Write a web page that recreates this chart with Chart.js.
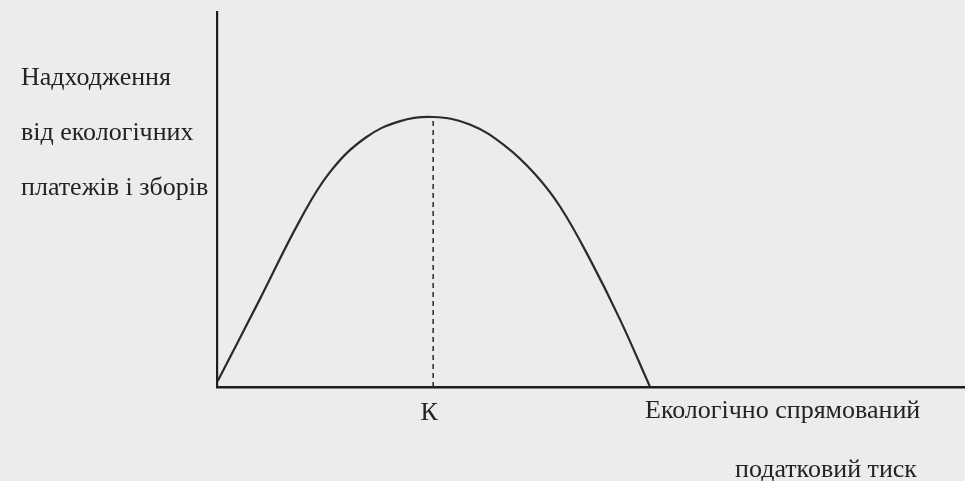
<!DOCTYPE html>
<html>
<head>
<meta charset="utf-8">
<script src="https://cdn.jsdelivr.net/npm/chart.js@4.4.1/dist/chart.umd.min.js"></script>
<style>
  html, body { margin: 0; padding: 0; background: #ececec; }
  #wrap { width: 965px; height: 481px; position: relative; }
</style>
</head>
<body>
<div id="wrap"><canvas id="c" width="965" height="481"></canvas></div>
<script>
// ---- data ----
const curveX = [0.1, 5.75, 11.1, 15.1, 19.8, 24.5, 28.9, 33.8, 38.5, 42.5, 45.9, 49.9, 53.9, 57.9];
const curveY = [1.6, 23.5, 44.5, 57.3, 66.4, 70.9, 72.0, 70.0, 64.3, 56.8, 48.0, 33.9, 17.9, 0];
const kValue = 28.9;
const kPeak = 72.0;
const kLabel = "К";
const yLabelLines = ["Надходження", "від екологічних", "платежів і зборів"];
const xLabelLines = ["Екологічно спрямований", "податковий тиск"];

const curvePoints = curveX.map((x, i) => ({ x: x, y: curveY[i] }));
const kLinePoints = [{ x: kValue, y: 0 }, { x: kValue, y: kPeak }];

const ink = "#232323";
const font = "26px 'Liberation Serif', 'Times New Roman', serif";

const textPlugin = {
  id: "texts",
  afterDraw(chart) {
    const ctx = chart.ctx;
    const xs = chart.scales.x;
    ctx.save();
    ctx.fillStyle = ink;
    ctx.font = font;
    ctx.textBaseline = "alphabetic";
    ctx.textAlign = "left";
    const yBase = [85, 140, 195];
    yLabelLines.forEach((t, i) => ctx.fillText(t, 21, yBase[i]));
    ctx.fillText(xLabelLines[0], 645, 418);
    ctx.fillText(xLabelLines[1], 735, 477);
    ctx.textAlign = "center";
    ctx.fillText(kLabel, xs.getPixelForValue(kValue) - 4, 420);
    ctx.restore();
  }
};

new Chart(document.getElementById("c"), {
  type: "scatter",
  data: {
    datasets: [
      {
        data: curvePoints,
        showLine: true,
        borderColor: "#2b2b2b",
        borderWidth: 2.2,
        pointRadius: 0,
        tension: 0.4,
        fill: false
      },
      {
        data: kLinePoints,
        showLine: true,
        borderColor: "#333333",
        borderWidth: 1.6,
        borderDash: [5, 4],
        pointRadius: 0,
        fill: false
      }
    ]
  },
  options: {
    responsive: false,
    animation: false,
    devicePixelRatio: 1,
    layout: { padding: { left: 217, right: 0, top: 12, bottom: 94 } },
    plugins: { legend: { display: false }, tooltip: { enabled: false }, title: { display: false } },
    scales: {
      x: {
        type: "linear", min: 0, max: 100,
        grid: { display: false, drawTicks: false },
        ticks: { display: false },
        border: { display: true, color: "#1e1e1e", width: 2.6 }
      },
      y: {
        type: "linear", min: 0, max: 100,
        grid: { display: false, drawTicks: false },
        ticks: { display: false },
        border: { display: true, color: "#1e1e1e", width: 2.2 }
      }
    }
  },
  plugins: [textPlugin]
});
</script>
</body>
</html>
